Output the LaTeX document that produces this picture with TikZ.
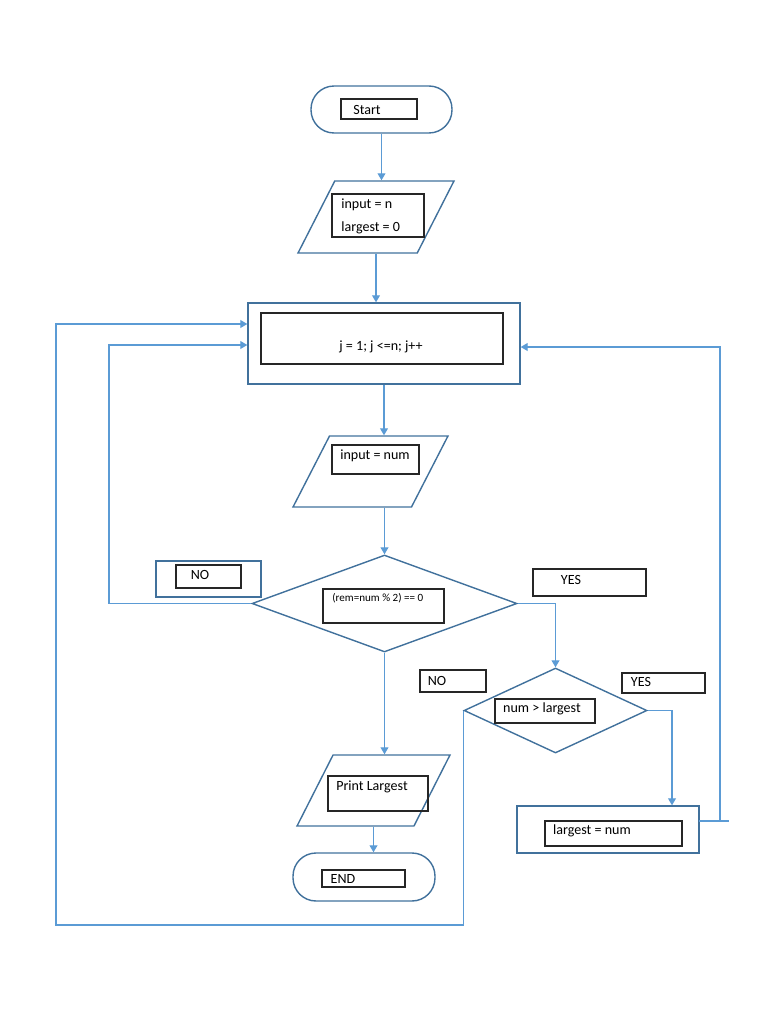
\documentclass[tikz,border=0pt]{standalone}
\usepackage{fontspec}
\setmainfont{Carlito}
\usetikzlibrary{shapes.geometric,arrows.meta,fit}

\definecolor{shapeblue}{RGB}{65,113,156}
\definecolor{linkblue}{RGB}{91,155,213}

\tikzset{
	terminal/.style={draw=shapeblue, line width=0.8pt, rectangle, rounded corners=0.46cm, inner sep=0pt},
	io/.style={draw=shapeblue, line width=0.8pt, trapezium, trapezium left angle=66, trapezium right angle=114, trapezium stretches=true, inner sep=1pt},
	decision/.style={draw=shapeblue, line width=0.8pt, diamond, inner sep=0pt},
	frame/.style={draw=shapeblue, line width=0.8pt, rectangle, inner sep=0pt},
	txtbox/.style={draw=black!85, line width=0.7pt, inner sep=0pt},
	lbl/.style={inner sep=0pt, font=\fontsize{8}{9.6}\selectfont},
	link/.style={draw=linkblue, line width=0.7pt},
	arr/.style={-{Triangle[width=4.5pt,length=4pt]}}
}

\begin{document}
\begin{tikzpicture}[x=0.02cm, y=-0.02cm]
	\useasboundingbox (0,0) rectangle (768,1024);
	%outer shapes
	\node[terminal, minimum width=2.82cm, minimum height=0.94cm] (start) at (381.5,109.5) {};
	\node[io, minimum width=3.12cm, minimum height=1.44cm] (in1) at (376,217) {};
	\node[frame, minimum width=5.44cm, minimum height=1.62cm] (loop) at (384,343.5) {};
	\node[io, minimum width=3.10cm, minimum height=1.42cm] (in2) at (370.5,471.5) {};
	\node[decision, minimum width=5.30cm, minimum height=1.94cm] (dia1) at (384.5,603.5) {};
	\node[frame, minimum width=2.10cm, minimum height=0.72cm] (nobox) at (208.5,579) {};
	\node[decision, minimum width=3.66cm, minimum height=1.70cm] (dia2) at (555.5,710.5) {};
	\node[io, minimum width=3.06cm, minimum height=1.42cm] (print) at (373.5,790.5) {};
	\node[frame, minimum width=3.64cm, minimum height=0.94cm] (upd) at (608,829.5) {};
	\node[terminal, minimum width=2.84cm, minimum height=0.96cm] (end) at (364,877) {};

	%text boxes
	\node[txtbox, fit={(341,99) (417,119)}] (startin) {};
	\node[txtbox, fit={(332,194) (424,237)}] (in1in) {};
	\node[txtbox, fit={(261,313) (503,364)}] (loopin) {};
	\node[txtbox, fit={(332,445) (419,474)}] (in2in) {};
	\node[txtbox, fit={(323,589) (444,623)}] (dia1in) {};
	\node[txtbox, fit={(176,565) (241,588)}] (noin) {};
	\node[txtbox, fit={(533,569) (646,596)}] (yes1) {};
	\node[txtbox, fit={(495,699) (595,723)}] (dia2in) {};
	\node[txtbox, fit={(420,670) (486,692)}] (no2) {};
	\node[txtbox, fit={(622,673) (705,693)}] (yes2) {};
	\node[txtbox, fit={(545,821) (682,846)}] (updin) {};
	\node[txtbox, fit={(328,776) (428,811)}] (printin) {};
	\node[txtbox, fit={(322,870) (405,887)}] (endin) {};

	%texts
	\node[lbl] (tstart) at (367,110) {Start};
	\node[lbl, anchor=west] (tn) at (341,205) {input = n};
	\node[lbl, anchor=west] (tlarge) at (341,228) {largest = 0};
	\node[lbl] (tloop) at (381,347) {j = 1; j <=n; j++};
	\node[lbl] (tnum) at (375,456) {input = num};
	\node[lbl, anchor=west, font=\fontsize{6.3}{7.5}\selectfont] (trem) at (332,598) {(rem=num \% 2) == 0};
	\node[lbl] (tno1) at (200,575) {NO};
	\node[lbl] (tyes1) at (571,580) {YES};
	\node[lbl] (tcmp) at (542,709) {num > largest};
	\node[lbl] (tno2) at (437,681) {NO};
	\node[lbl] (tyes2) at (641,682) {YES};
	\node[lbl] (tupd) at (592,831) {largest = num};
	\node[lbl] (tprint) at (372,787) {Print Largest};
	\node[lbl] (tend) at (343,879) {END};

	%bend points
	\coordinate (noloop) at (109,345);
	\coordinate (yesdown) at (672,0);
	\coordinate (updout) at (699,821);
	\coordinate (backup) at (720,347);
	\coordinate (botleft) at (56,925);
	\coordinate (outtop) at (0,324);

	%connectors
	\foreach \a/\b in {start/in1, in1/loop, loop/in2, dia1/print, print/end}
		\draw[link, arr] (\a.south) -- (\a.south |- \b.north);
	\draw[link, arr] (dia1.north |- in2.south) -- (dia1.north);
	\draw[link, arr] (dia1.east) -| (dia2.north);
	\draw[link, arr] (dia2.east) -| (yesdown |- upd.north);
	\draw[link, arr] (dia1.west) -| (noloop) -- (loop.west |- noloop);
	\draw[link] (updout) -- ++(30,0);
	\draw[link, arr] (updout -| backup) -- (backup) -- (loop.east |- backup);
	\draw[link, arr] (dia2.west) |- (botleft) |- (loop.west |- outtop);
\end{tikzpicture}
\end{document}
